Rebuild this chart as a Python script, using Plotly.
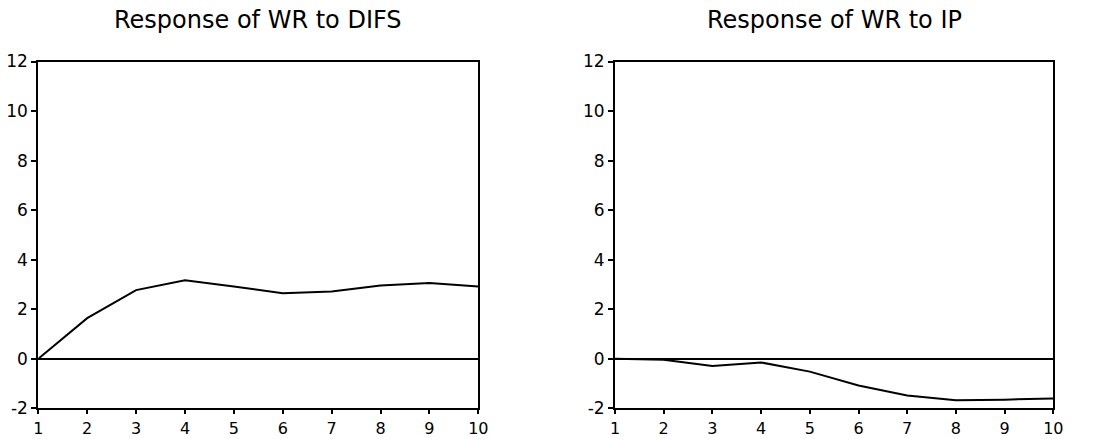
import plotly.graph_objects as go

periods = [1, 2, 3, 4, 5, 6, 7, 8, 9, 10]
resp_difs = [0.0, 1.64, 2.77, 3.17, 2.92, 2.64, 2.72, 2.96, 3.06, 2.92]
resp_ip = [0.0, -0.04, -0.29, -0.15, -0.52, -1.08, -1.48, -1.67, -1.65, -1.60]
titles = ["Response of WR to DIFS", "Response of WR to IP"]
y_ticks = [-2, 0, 2, 4, 6, 8, 10, 12]
y_tick_labels = ["-2", "0", "2", "4", "6", "8", "10", "12"]

FONT = "DejaVu Sans"
W, H = 1102, 439

fig = go.Figure()
fig.add_trace(go.Scatter(x=periods, y=resp_difs, mode="lines",
                         line=dict(color="black", width=2),
                         xaxis="x", yaxis="y", showlegend=False))
fig.add_trace(go.Scatter(x=periods, y=resp_ip, mode="lines",
                         line=dict(color="black", width=2),
                         xaxis="x2", yaxis="y2", showlegend=False))

ydom = [1 - 408.3 / H, 1 - 61.5 / H]
xdom1 = [38.3 / W, 478.3 / W]
xdom2 = [615.0 / W, 1053.3 / W]

def xax(dom, anchor):
    return dict(domain=dom, anchor=anchor, range=[1, 10], tickvals=periods,
                automargin=False,
                showline=True, mirror=True, linecolor="black", linewidth=2,
                ticks="outside", ticklen=4, tickwidth=1.5, tickcolor="black",
                showgrid=False, zeroline=False,
                tickfont=dict(family=FONT, size=16, color="black"))

def yax(anchor):
    return dict(domain=ydom, anchor=anchor, range=[-2, 12], tickvals=y_ticks,
                ticktext=y_tick_labels,
                automargin=False,
                showline=True, mirror=True, linecolor="black", linewidth=2,
                ticks="outside", ticklen=5, tickwidth=1.5, tickcolor="black",
                showgrid=False, zeroline=True, zerolinecolor="black",
                zerolinewidth=1.5,
                tickfont=dict(family=FONT, size=17, color="black"))

fig.update_layout(
    template="none",
    width=W, height=H,
    margin=dict(l=0, r=0, t=0, b=0, pad=0),
    paper_bgcolor="white", plot_bgcolor="white",
    xaxis=xax(xdom1, "y"), yaxis=yax("x"),
    xaxis2=xax(xdom2, "y2"), yaxis2=yax("x2"),
    annotations=[
        dict(text=titles[0], x=(xdom1[0] + xdom1[1]) / 2, y=1 - 20 / H,
             xref="paper", yref="paper", xanchor="center", yanchor="middle",
             showarrow=False, font=dict(family=FONT, size=24, color="black")),
        dict(text=titles[1], x=(xdom2[0] + xdom2[1]) / 2, y=1 - 20 / H,
             xref="paper", yref="paper", xanchor="center", yanchor="middle",
             showarrow=False, font=dict(family=FONT, size=24, color="black")),
    ],
)

fig.write_html("out.html")
